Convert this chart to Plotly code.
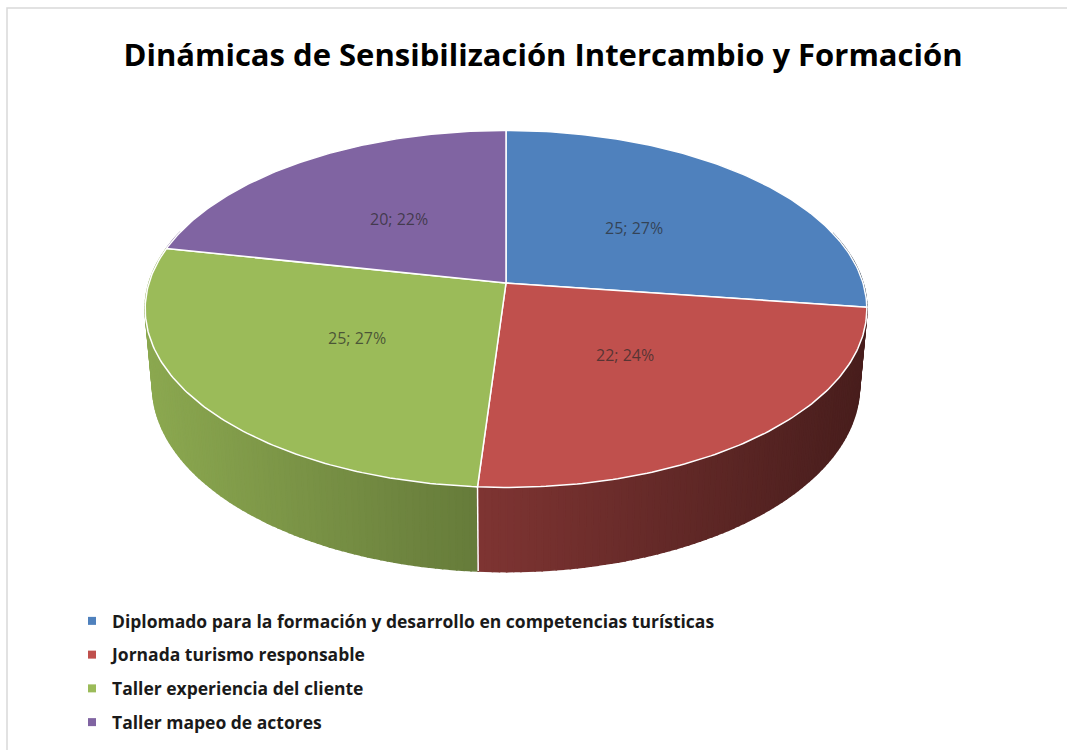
import numpy as np
import plotly.graph_objects as go

title = "Dinámicas de Sensibilización Intercambio y Formación"
categories = ["Diplomado para la formación y desarrollo en competencias turísticas",
              "Jornada turismo responsable",
              "Taller experiencia del cliente",
              "Taller mapeo de actores"]
values = [25, 22, 25, 20]
colors = ["#4f81bd", "#c0504d", "#9bbb59", "#8064a2"]

# geometry of the fake 3d pie, in pixels of the 1067x750 canvas
W, HT = 1067, 750
CX, CY = 506, 283
K = 357          # radius scale
TILT = np.radians(29.3)
DIST = 6.0       # perspective distance (in radii)
DEPTH = 0.25     # thickness (in radii)


def project(theta, r=1.0, hgt=0.0):
    """theta clockwise from the far side of the pie"""
    X = r * np.sin(theta)
    Z = r * np.cos(theta)
    up = Z * np.sin(TILT) + hgt * np.cos(TILT)
    depth = Z * np.cos(TILT) - hgt * np.sin(TILT)
    s = DIST / (DIST + depth)
    return CX + K * X * s, CY - K * up * s


def shade(hex_color, f):
    h = hex_color.lstrip("#")
    rgb = [int(h[i:i + 2], 16) for i in (0, 2, 4)]
    return "rgb(%d,%d,%d)" % tuple(min(255, int(c * f)) for c in rgb)


total = sum(values)
bounds = np.concatenate([[0], np.cumsum(values)]) / total * 2 * np.pi

fig = go.Figure()

# side wall, split into thin strips so it gets a left-to-right gradient
strips = []
for i, col in enumerate(colors):
    a0, a1 = bounds[i], bounds[i + 1]
    n = max(2, int(np.degrees(a1 - a0)))
    ts = np.linspace(a0, a1, n + 1)
    for t0, t1 in zip(ts[:-1], ts[1:]):
        tm = (t0 + t1) / 2
        if np.cos(tm) > 0.3:
            continue
        xs0, ys0 = project(np.array([t0, t1]))
        xs1, ys1 = project(np.array([t1, t0]), hgt=-DEPTH)
        xm = (xs0.mean() - (CX - K)) / (2 * K)
        f = 0.9 - 0.52 * xm
        strips.append((np.cos(tm), list(xs0) + list(xs1), list(ys0) + list(ys1), shade(col, f)))

strips.sort(key=lambda s: -s[0])
for _, xs, ys, c in strips:
    fig.add_trace(go.Scatter(x=xs + xs[:1], y=ys + ys[:1], mode="lines", fill="toself",
                             fillcolor=c, line=dict(color=c, width=1.6),
                             hoverinfo="skip", showlegend=False))

# white seams on the visible wall
for b in bounds[1:-1]:
    if np.cos(b) < -0.3:
        x0, y0 = project(b)
        x1, y1 = project(b, hgt=-DEPTH)
        fig.add_trace(go.Scatter(x=[x0, x1], y=[y0, y1], mode="lines",
                                 line=dict(color="white", width=1.5),
                                 hoverinfo="skip", showlegend=False))

# top face
for i, col in enumerate(colors):
    ts = np.linspace(bounds[i], bounds[i + 1], 120)
    ax, ay = project(ts)
    cx0, cy0 = project(0.0, r=0.0)
    fig.add_trace(go.Scatter(x=[cx0] + list(ax) + [cx0], y=[cy0] + list(ay) + [cy0],
                             mode="lines", fill="toself", fillcolor=col,
                             line=dict(color="white", width=1.5),
                             hoverinfo="skip", showlegend=False))

# labels
for i, v in enumerate(values):
    mid = (bounds[i] + bounds[i + 1]) / 2
    lx, ly = project(mid, r=0.5)
    fig.add_annotation(x=lx, y=ly, text="%d; %d%%" % (v, round(100 * v / total)),
                       showarrow=False,
                       font=dict(family="Open Sans", size=16, color="rgba(40,40,40,0.7)"))

# legend entries
for name, col in zip(categories, colors):
    fig.add_trace(go.Scatter(x=[None], y=[None], mode="markers", name=name,
                             legendgroup=name,
                             marker=dict(symbol="square", size=8, color=col)))

fig.add_shape(type="rect", x0=7, y0=8, x1=W + 20, y1=HT + 20,
              line=dict(color="#d9d9d9", width=1.5))

fig.update_xaxes(range=[0, W], visible=False, fixedrange=True)
fig.update_yaxes(range=[HT, 0], visible=False, fixedrange=True)
fig.update_layout(
    width=W, height=HT,
    margin=dict(l=0, r=0, t=0, b=0),
    plot_bgcolor="white", paper_bgcolor="white",
    title=dict(text=title, x=543 / W, y=1 - 55 / HT, xanchor="center", yanchor="middle",
               font=dict(family="Open Sans", size=31, color="black", weight="bold")),
    legend=dict(x=72 / W, y=1 - 603 / HT, xanchor="left", yanchor="top",
                font=dict(family="Open Sans", size=17.5, color="#1a1a1a", weight="bold"),
                tracegroupgap=8, bgcolor="rgba(0,0,0,0)"),
)

fig.write_html("out.html", config={"displayModeBar": False},
               post_script="document.body.style.margin='0';")
